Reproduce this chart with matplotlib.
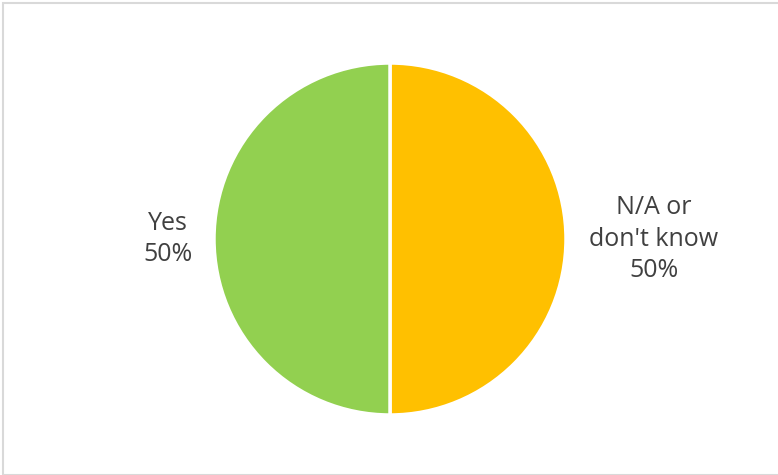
import matplotlib.pyplot as plt
from matplotlib.patches import Rectangle

labels = ["N/A or\ndon't know", "Yes"]
values = [50, 50]
colors = ["#FFC000", "#92D050"]

fig = plt.figure(figsize=(7.78, 4.75), dpi=100)
fig.patches.append(Rectangle((2.5 / 778, 0), 1, 1 - 2.5 / 475, transform=fig.transFigure,
                             fill=False, edgecolor="#D9D9D9", linewidth=1.5))

ax = fig.add_axes([(390 - 176) / 778, (475 - 239 - 176) / 475, 352 / 778, 352 / 475])
wedges, texts = ax.pie(values, colors=colors, startangle=90, counterclock=False,
                       wedgeprops=dict(edgecolor="white", linewidth=2.5),
                       labels=[f"{l}\n{v}%" for l, v in zip(labels, values)],
                       textprops=dict(fontsize=18, color="#404040", family="Open Sans",
                                      ha="center", va="center", linespacing=1.35))
texts[0].set_position((1.50, 0.0))
texts[1].set_position((-1.26, 0.0))
ax.set_xlim(-1, 1)
ax.set_ylim(-1, 1)
ax.set_aspect("equal")

plt.savefig("out.png", dpi=100)
